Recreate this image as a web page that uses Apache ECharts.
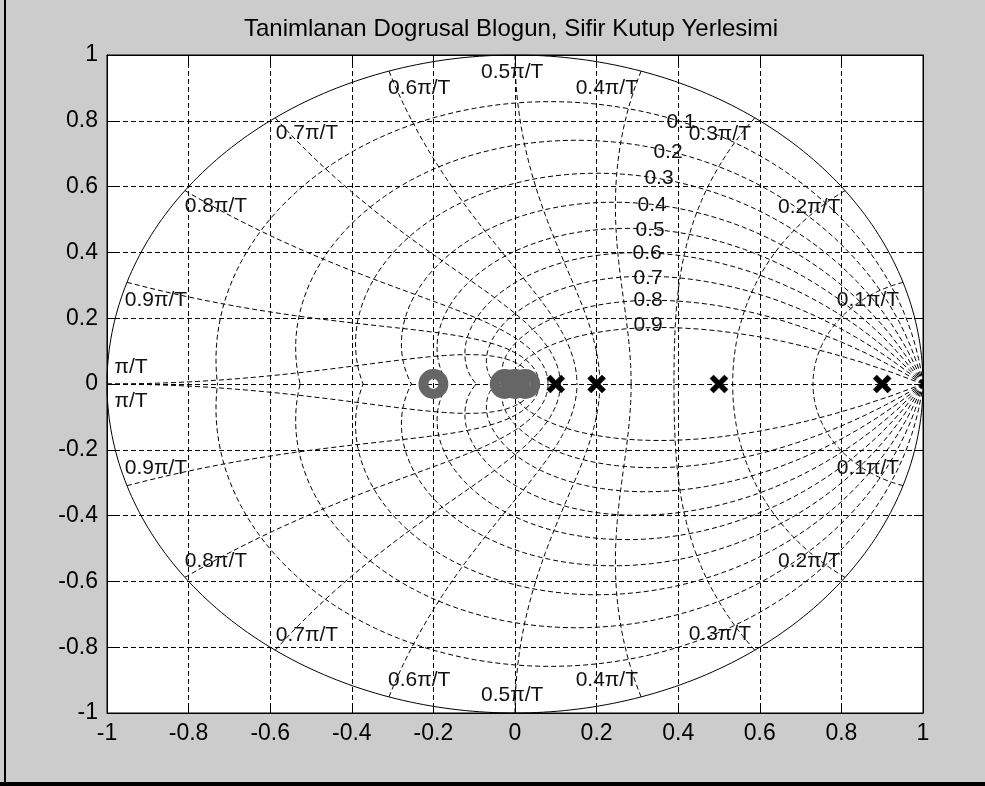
<!DOCTYPE html>
<html><head><meta charset="utf-8">
<script src="https://cdn.jsdelivr.net/npm/echarts@6/dist/echarts.min.js"></script>
<style>html,body{margin:0;padding:0;background:#cccccc;} #c{width:985px;height:786px;}</style>
</head><body><div id="c"></div>
<script>
// ---- data ----
const titleText = 'Tanimlanan Dogrusal Blogun, Sifir Kutup Yerlesimi';
const zerosRe = [-0.2, -0.025, 0, 0.025];
const zerosIm = [0, 0, 0, 0];
const polesRe = [0.1, 0.2, 0.5, 0.9];
const polesIm = [0, 0, 0, 0];
// z-grid definition: damping ratios and natural frequencies (units of pi/T)
const zetaValues = [0.1, 0.2, 0.3, 0.4, 0.5, 0.6, 0.7, 0.8, 0.9];
const wnValues = [0.1, 0.2, 0.3, 0.4, 0.5, 0.6, 0.7, 0.8, 0.9, 1.0];
// grid labels
const zetaLabels = ['0.1','0.2','0.3','0.4','0.5','0.6','0.7','0.8','0.9'];
const zetaLabelX = [0.407, 0.375, 0.353, 0.336, 0.331, 0.324, 0.326, 0.326, 0.326];
const zetaLabelY = [0.796, 0.705, 0.626, 0.544, 0.468, 0.398, 0.322, 0.255, 0.179];
const wnLabels = ['0.1π/T','0.2π/T','0.3π/T','0.4π/T','0.5π/T','0.6π/T','0.7π/T','0.8π/T','0.9π/T','π/T'];
const wnLabelX = [0.865, 0.721, 0.502, 0.225, -0.007, -0.235, -0.510, -0.733, -0.880, -0.941];
const wnLabelY = [0.255, 0.538, 0.760, 0.900, 0.947, 0.900, 0.763, 0.540, 0.255, 0.052];

// ---- build grid curves from their definitions ----
const N = 80;
const gridCurves = [];
zetaValues.forEach(function (zeta) {
  const m = zeta / Math.sqrt(1 - zeta * zeta);
  const up = [], dn = [];
  for (let k = 0; k <= N; k++) {
    const w = Math.PI * k / N;
    const r = Math.exp(-m * w);
    up.push([r * Math.cos(w), r * Math.sin(w)]);
    dn.push([r * Math.cos(w), -r * Math.sin(w)]);
  }
  gridCurves.push({coords: up}, {coords: dn});
});
wnValues.forEach(function (wn) {
  const W = wn * Math.PI;
  const up = [], dn = [];
  for (let k = 0; k <= N; k++) {
    const th = Math.PI / 2 + (Math.PI / 2) * k / N;
    const r = Math.exp(W * Math.cos(th));
    const a = W * Math.sin(th);
    up.push([r * Math.cos(a), r * Math.sin(a)]);
    dn.push([r * Math.cos(a), -r * Math.sin(a)]);
  }
  gridCurves.push({coords: up}, {coords: dn});
});
const circle = [];
for (let k = 0; k <= 360; k++) {
  const a = k * Math.PI / 180;
  circle.push([Math.cos(a), Math.sin(a)]);
}

const FONT = 'Liberation Sans, Arial, sans-serif';
const labelData = [];
zetaLabels.forEach(function (t, i) { labelData.push({value: [zetaLabelX[i], zetaLabelY[i]], name: t}); });
wnLabels.forEach(function (t, i) {
  labelData.push({value: [wnLabelX[i], wnLabelY[i]], name: t});
  labelData.push({value: [wnLabelX[i], -wnLabelY[i]], name: t});
});

const xPath = 'path://M0,4L4,0L10,6L16,0L20,4L14,10L20,16L16,20L10,14L4,20L0,16L6,10Z';

function axisCommon(pos, showLabel) {
  return {
    type: 'value', min: -1, max: 1, interval: 0.2, position: pos,
    axisLine: {show: true, onZero: false, lineStyle: {color: '#000', width: 1}},
    axisTick: {show: true, inside: true, length: 9, lineStyle: {color: '#000'}},
    axisLabel: {show: showLabel, color: '#000', fontSize: 23, fontFamily: FONT, margin: 9},
    splitLine: {show: showLabel, lineStyle: {color: '#000', width: 1, type: [5, 3]}}
  };
}

const chart = echarts.init(document.getElementById('c'), null, {renderer: 'canvas'});
chart.setOption({
  backgroundColor: '#cccccc',
  animation: false,
  grid: {left: 107, top: 55, width: 816, height: 658, show: true, backgroundColor: '#ffffff', borderColor: '#000', borderWidth: 1},
  xAxis: [axisCommon('bottom', true), axisCommon('top', false)],
  yAxis: [axisCommon('left', true), axisCommon('right', false)],
  graphic: [
    {type: 'text', x: 511, y: 29, style: {text: titleText, font: '24px ' + FONT, fill: '#000', textAlign: 'center', textVerticalAlign: 'middle'}},
    {type: 'rect', shape: {x: 4, y: 0, width: 2, height: 786}, style: {fill: '#000'}},
    {type: 'rect', shape: {x: 0, y: 782, width: 985, height: 4}, style: {fill: '#000'}}
  ],
  series: [
    {type: 'lines', coordinateSystem: 'cartesian2d', polyline: true, silent: true, z: 2,
     lineStyle: {color: '#000', width: 1, type: [5, 3], opacity: 1}, data: gridCurves},
    {type: 'lines', coordinateSystem: 'cartesian2d', polyline: true, silent: true, z: 3,
     lineStyle: {color: '#000', width: 1, type: 'solid', opacity: 1}, data: [{coords: circle}]},
    {type: 'scatter', z: 5, symbol: 'circle', symbolSize: 20,
     itemStyle: {color: 'rgba(0,0,0,0)', borderColor: '#666666', borderWidth: 10, opacity: 1},
     data: zerosRe.map(function (v, i) { return [v, zerosIm[i]]; })},
    {type: 'scatter', z: 5, symbol: xPath, symbolSize: 18,
     itemStyle: {color: '#000', borderColor: '#000', borderWidth: 0.5, opacity: 1},
     data: polesRe.map(function (v, i) { return [v, polesIm[i]]; })},
    {type: 'scatter', z: 6, symbolSize: 0, silent: true,
     itemStyle: {opacity: 1},
     label: {show: true, position: 'inside', formatter: '{b}', color: '#111', fontSize: 21, fontFamily: FONT, opacity: 1},
     data: labelData}
  ]
});
</script></body></html>
